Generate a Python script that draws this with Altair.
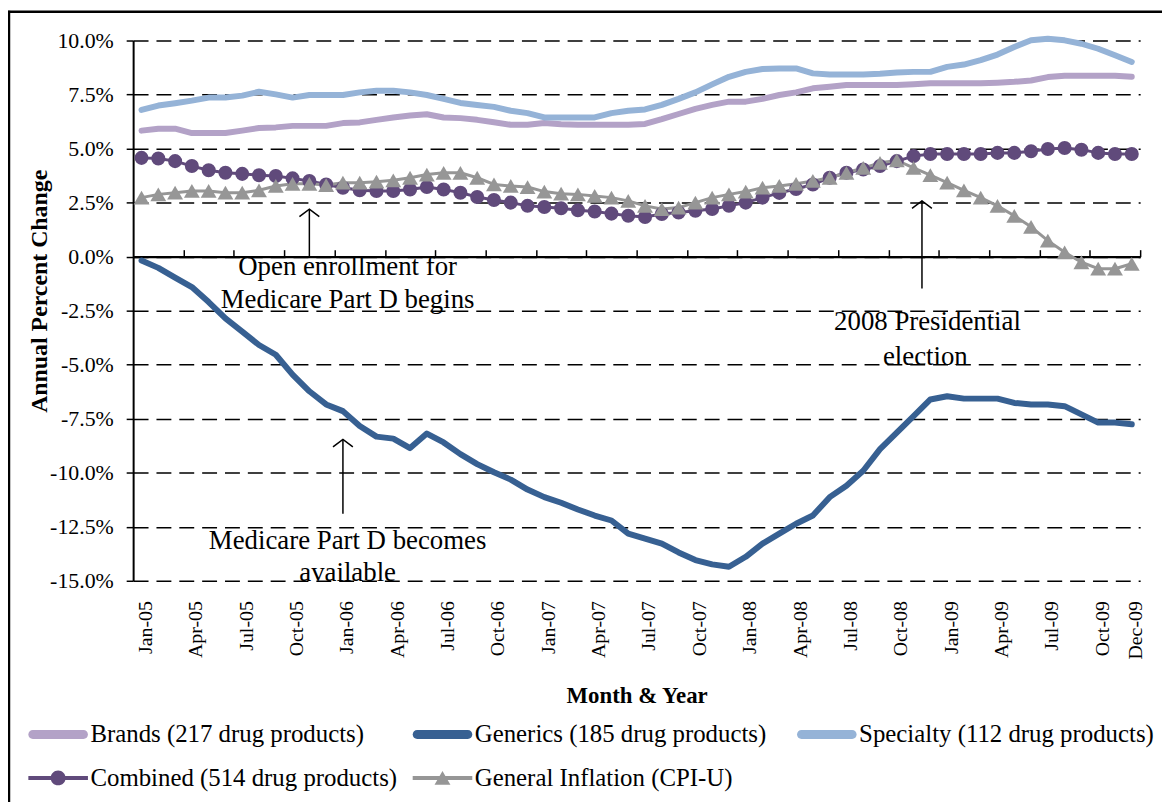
import altair as alt
import pandas as pd

# ---------------- data ----------------
series_names = [
    "Brands (217 drug products)",
    "Generics (185 drug products)",
    "Specialty (112 drug products)",
    "Combined (514 drug products)",
    "General Inflation (CPI-U)",
]
series_colors = ["#B3A2C7", "#376092", "#95B3D7", "#604A7B", "#969696"]

brands = [5.83, 5.92, 5.92, 5.72, 5.72, 5.72, 5.83, 5.95, 5.98, 6.05,
          6.05, 6.05, 6.18, 6.21, 6.33, 6.44, 6.53, 6.59, 6.44, 6.41,
          6.33, 6.22, 6.10, 6.10, 6.18, 6.13, 6.10, 6.10, 6.10, 6.10,
          6.14, 6.36, 6.60, 6.84, 7.02, 7.17, 7.17, 7.30, 7.48, 7.60,
          7.79, 7.86, 7.94, 7.94, 7.94, 7.94, 7.98, 8.02, 8.02, 8.02,
          8.02, 8.05, 8.09, 8.15, 8.31, 8.37, 8.37, 8.37, 8.37, 8.32]
generics = [-0.18, -0.52, -0.97, -1.41, -2.10, -2.86, -3.47, -4.09, -4.54, -5.46,
            -6.23, -6.84, -7.15, -7.84, -8.33, -8.42, -8.86, -8.19, -8.60, -9.14,
            -9.60, -9.98, -10.32, -10.78, -11.13, -11.39, -11.70, -11.98, -12.21, -12.82,
            -13.05, -13.28, -13.69, -14.04, -14.24, -14.35, -13.89, -13.28, -12.82, -12.36,
            -11.98, -11.13, -10.60, -9.91, -8.91, -8.14, -7.38, -6.61, -6.46, -6.57,
            -6.57, -6.57, -6.77, -6.84, -6.84, -6.92, -7.30, -7.68, -7.68, -7.76]
specialty = [6.79, 6.99, 7.10, 7.22, 7.36, 7.36, 7.45, 7.63, 7.51, 7.36,
             7.48, 7.48, 7.48, 7.60, 7.68, 7.68, 7.60, 7.48, 7.30, 7.11,
             7.02, 6.93, 6.75, 6.64, 6.44, 6.44, 6.44, 6.44, 6.64, 6.75,
             6.81, 7.02, 7.30, 7.60, 7.97, 8.32, 8.55, 8.68, 8.71, 8.71,
             8.48, 8.43, 8.43, 8.43, 8.46, 8.52, 8.55, 8.55, 8.78, 8.89,
             9.09, 9.35, 9.70, 10.01, 10.08, 10.01, 9.85, 9.62, 9.32, 9.01]
combined = [4.57, 4.54, 4.42, 4.19, 4.00, 3.88, 3.83, 3.77, 3.73, 3.62,
            3.50, 3.34, 3.19, 3.07, 3.04, 3.04, 3.11, 3.22, 3.11, 2.96,
            2.76, 2.62, 2.50, 2.35, 2.30, 2.24, 2.15, 2.09, 1.99, 1.89,
            1.83, 1.97, 2.04, 2.12, 2.20, 2.35, 2.50, 2.73, 2.95, 3.13,
            3.34, 3.65, 3.88, 4.03, 4.19, 4.42, 4.65, 4.75, 4.75, 4.75,
            4.75, 4.80, 4.80, 4.88, 4.98, 5.03, 4.95, 4.80, 4.75, 4.75]
cpi = [2.73, 2.88, 2.96, 3.04, 3.04, 2.96, 2.96, 3.07, 3.27, 3.37,
       3.37, 3.31, 3.42, 3.42, 3.47, 3.53, 3.65, 3.80, 3.88, 3.88,
       3.65, 3.34, 3.27, 3.22, 3.01, 2.91, 2.88, 2.81, 2.73, 2.58,
       2.35, 2.20, 2.27, 2.50, 2.73, 2.88, 3.01, 3.19, 3.27, 3.37,
       3.50, 3.65, 3.88, 4.11, 4.34, 4.45, 4.11, 3.77, 3.42, 3.07,
       2.73, 2.35, 1.89, 1.38, 0.74, 0.20, -0.26, -0.56, -0.56, -0.33]

tick_idx = [0, 3, 6, 9, 12, 15, 18, 21, 24, 27, 30, 33, 36, 39, 42, 45, 48, 51, 54, 57, 59]
tick_labels = ["Jan-05", "Apr-05", "Jul-05", "Oct-05", "Jan-06", "Apr-06", "Jul-06",
               "Oct-06", "Jan-07", "Apr-07", "Jul-07", "Oct-07", "Jan-08", "Apr-08",
               "Jul-08", "Oct-08", "Jan-09", "Apr-09", "Jul-09", "Oct-09", "Dec-09"]
zero_axis_ticks = [2.5, 5.5, 8.5, 11.5, 14.5, 17.5, 20.5, 23.5, 26.5, 29.5,
                   32.5, 35.5, 38.5, 41.5, 44.5, 47.5, 50.5, 53.5, 56.5, 59.5]
y_values = [-15, -12.5, -10, -7.5, -5, -2.5, 0, 2.5, 5, 7.5, 10]
y_labels = ["-15.0%", "-12.5%", "-10.0%", "-7.5%", "-5.0%", "-2.5%", "0.0%",
            "2.5%", "5.0%", "7.5%", "10.0%"]

ann_text = ["Open enrollment for", "Medicare Part D begins",
            "Medicare Part D becomes", "available",
            "2008 Presidential", "election"]
ann_x = [12.28, 12.28, 12.28, 12.28, 46.83, 46.7]
ann_y = [-0.50, -2.02, -13.14, -14.65, -3.03, -4.64]

arrow_x = [10, 12, 46.5]
arrow_base = [0.0, -11.9, -1.47]
arrow_tip = [2.2, -8.46, 2.58]

# ---------------- tables ----------------
rows = []
for name, vals in zip(series_names, [brands, generics, specialty, combined, cpi]):
    for i, v in enumerate(vals):
        rows.append({"idx": i, "series": name, "value": v})
df = pd.DataFrame(rows)
ann_df = pd.DataFrame({"x": ann_x, "y": ann_y, "text": ann_text})
arrow_df = pd.DataFrame({"x": arrow_x, "y0": arrow_base, "y1": arrow_tip})
legend_df = pd.DataFrame({"series": series_names})

FONT = "Liberation Serif"
W, H = 1014, 544

x_scale = alt.Scale(domain=[-0.5, 59.5], nice=False, zero=False)
y_scale = alt.Scale(domain=[-15, 10], nice=False, zero=False)
color_scale = alt.Scale(domain=series_names, range=series_colors)

x_label_js = "[" + ",".join("'%s'" % t for t in tick_labels) + "]"
x_idx_js = "[" + ",".join(str(t) for t in tick_idx) + "]"
y_label_js = "[" + ",".join("'%s'" % t for t in y_labels) + "]"
y_val_js = "[" + ",".join(str(t) for t in y_values) + "]"

x_bottom = alt.X(
    "idx:Q", scale=x_scale,
    axis=alt.Axis(
        orient="bottom", values=tick_idx,
        labelExpr=x_label_js + "[indexof(" + x_idx_js + ", datum.value)]",
        domain=False, ticks=False, grid=False,
        labelAngle=270, labelPadding=20, labelOffset=4,
        labelFont=FONT, labelFontSize=20, labelColor="black",
        labelOverlap=False, labelFlush=False,
        title="Month & Year", titleFont=FONT, titleFontSize=23,
        titleFontWeight="bold", titleColor="black",
        titleX=W / 2, titleY=116, titleBaseline="middle", titleAlign="center",
    ),
)
x_none = alt.X("idx:Q", scale=x_scale, axis=None)

y_main = alt.Y(
    "value:Q", scale=y_scale,
    axis=alt.Axis(
        orient="left", values=y_values,
        labelExpr=y_label_js + "[indexof(" + y_val_js + ", datum.value)]",
        domain=True, domainColor="black", domainWidth=2,
        ticks=True, tickColor="black", tickSize=7, tickWidth=1.5,
        grid=True, gridColor="black", gridDash=[15, 8], gridWidth=1.5,
        labelFont=FONT, labelFontSize=22, labelColor="black", labelPadding=13,
        title="Annual Percent Change", titleFont=FONT, titleFontSize=24,
        titleFontWeight="bold", titleColor="black",
        titleX=-94, titleY=252, titleAngle=270,
        titleBaseline="middle", titleAlign="center",
    ),
)
y_none = alt.Y("value:Q", scale=y_scale, axis=None)

color_nolegend = alt.Color("series:N", scale=color_scale, legend=None)

border_df = pd.DataFrame({"k": [0]})
border_top = alt.Chart(border_df).mark_rule(color="black", strokeWidth=2.5).encode(
    x=alt.value(-126), x2=alt.value(W + 200), y=alt.value(-29)
)
border_left = alt.Chart(border_df).mark_rule(color="black", strokeWidth=2.5).encode(
    x=alt.value(-125), y=alt.value(-30), y2=alt.value(H + 400)
)

thick = alt.Chart(df).transform_filter(
    alt.FieldOneOfPredicate(field="series", oneOf=series_names[:3])
).mark_line(strokeWidth=6, strokeCap="round", strokeJoin="round").encode(
    x=x_bottom, y=y_main, color=color_nolegend
)

thin = alt.Chart(df).transform_filter(
    alt.FieldOneOfPredicate(field="series", oneOf=series_names[3:])
).mark_line(strokeWidth=3, strokeJoin="round").encode(
    x=x_none, y=y_none, color=color_nolegend
)

comb_pts = alt.Chart(df).transform_filter(
    alt.FieldEqualPredicate(field="series", equal=series_names[3])
).mark_point(shape="circle", filled=True, size=200, opacity=1).encode(
    x=x_none, y=y_none, color=color_nolegend
)

cpi_pts = alt.Chart(df).transform_filter(
    alt.FieldEqualPredicate(field="series", equal=series_names[4])
).mark_point(shape="triangle-up", filled=True, size=256, opacity=1).encode(
    x=x_none, y=y_none, color=color_nolegend
)

arrows = alt.Chart(arrow_df).mark_rule(color="black", strokeWidth=1.5).encode(
    x=alt.X("x:Q", scale=x_scale, axis=alt.Axis(
        orient="top", offset=-H * 10 / 25, values=zero_axis_ticks, labels=False,
        domain=True, domainColor="black", domainWidth=2.5,
        ticks=True, tickColor="black", tickSize=7, tickWidth=1.5,
        grid=False, title=None)),
    y=alt.Y("y0:Q", scale=y_scale, axis=None),
    y2="y1:Q",
)

heads = alt.Chart(arrow_df).mark_point(
    shape="M-1,0.75L0,0L1,0.75", size=400, filled=False,
    color="black", strokeWidth=1.5, opacity=1
).encode(
    x=alt.X("x:Q", scale=x_scale, axis=None),
    y=alt.Y("y1:Q", scale=y_scale, axis=None),
)

texts = alt.Chart(ann_df).mark_text(
    font=FONT, fontSize=27, color="black", baseline="middle", align="center"
).encode(
    x=alt.X("x:Q", scale=x_scale, axis=None),
    y=alt.Y("y:Q", scale=y_scale, axis=None),
    text="text:N",
)

legend_paths = [
    "M-4.55,-0.45H0.55A0.45,0.45 0 0 1 0.55,0.45H-4.55A0.45,0.45 0 0 1 -4.55,-0.45Z",
    "M-4.55,-0.45H0.55A0.45,0.45 0 0 1 0.55,0.45H-4.55A0.45,0.45 0 0 1 -4.55,-0.45Z",
    "M-4.55,-0.45H0.55A0.45,0.45 0 0 1 0.55,0.45H-4.55A0.45,0.45 0 0 1 -4.55,-0.45Z",
    "M-5,-0.2H1V0.2H-5Z M-1.25,0A0.75,0.75 0 1 1 -2.75,0A0.75,0.75 0 1 1 -1.25,0Z",
    "M-5,-0.2H1V0.2H-5Z M-2,-0.7L-1.2,0.7L-2.8,0.7Z",
]

leg = alt.Legend(
    title=None, orient="none", legendX=-68, legendY=686,
    columns=3, direction="horizontal", gridAlign="all",
    columnPadding=15, rowPadding=18, padding=0,
    labelFont=FONT, labelFontSize=25, labelColor="black", labelLimit=1000,
    labelOffset=0, symbolSize=400, symbolStrokeWidth=0, symbolOpacity=1,
)

legend_layer = alt.Chart(legend_df).transform_filter("false").mark_point(
    filled=True, size=400, opacity=1
).encode(
    color=alt.Color("series:N", scale=color_scale, legend=leg),
    shape=alt.Shape("series:N", scale=alt.Scale(domain=series_names, range=legend_paths), legend=leg),
)

chart = alt.layer(
    border_top, border_left, thick, thin, comb_pts, cpi_pts, arrows, heads, texts, legend_layer
).resolve_axis(x="independent", y="independent").resolve_legend(
    color="independent", shape="independent"
).properties(
    width=W, height=H,
    padding={"left": 126, "top": 30, "right": 22, "bottom": 220},
    autosize=alt.AutoSizeParams(type="none"),
    background="white",
).configure(font=FONT).configure_view(strokeWidth=0)

chart.save("out.html", embed_options={"renderer": "svg", "actions": False})
